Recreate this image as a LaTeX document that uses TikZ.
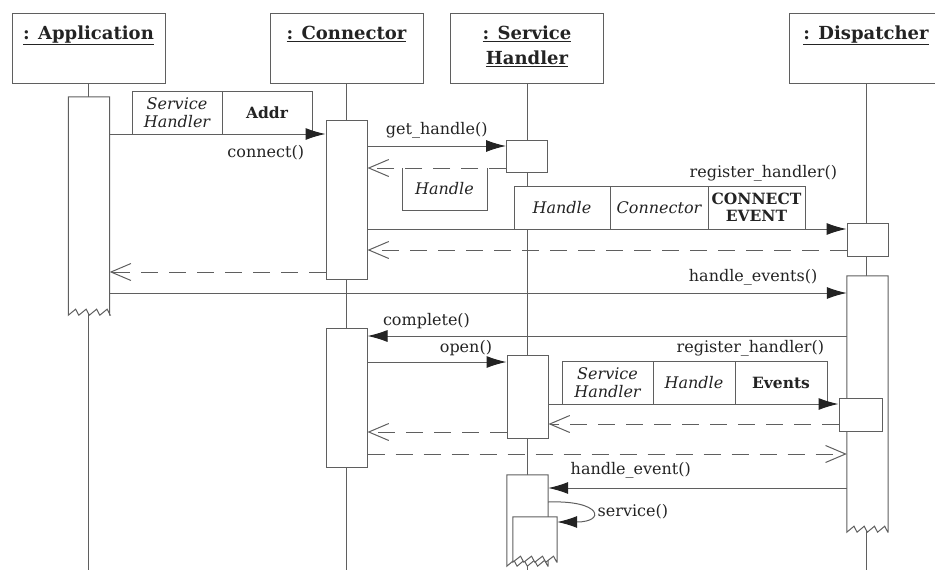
\documentclass[tikz,border=0pt]{standalone}
\usepackage{fontspec}
\setmainfont{DejaVu Serif}
\usepackage{tikz}
\usetikzlibrary{arrows.meta,positioning,calc}
\definecolor{linegray}{RGB}{95,95,95}
\definecolor{inkgray}{RGB}{35,35,35}
% activation bar with a torn (zigzag) lower end
\newcommand{\zigact}[2]{%
  \draw[zig] (#1.south east) -- (#1.north east) -- (#1.north west) -- (#1.south west)
    \foreach \t in {1,...,4}{ -- ++(0.7*#2,-6) -- ++(0.3*#2,6) } -- cycle;
}

\begin{document}
\begin{tikzpicture}[
    x=1pt, y=-1pt,
    font=\fontsize{16}{18}\selectfont, text=inkgray,
    object/.style={rectangle, draw=linegray, line width=1pt, minimum width=153pt, minimum height=70pt, inner sep=0pt},
    objname/.style={inner sep=0pt, align=center, font=\fontsize{18}{25}\selectfont\bfseries},
    lifeline/.style={draw=linegray, line width=0.9pt},
    act/.style={rectangle, draw=linegray, fill=white, line width=1pt, minimum width=41pt, inner sep=0pt},
    actz/.style={rectangle, minimum width=41pt, inner sep=0pt},
    zig/.style={draw=linegray, fill=white, line width=1pt},
    param/.style={rectangle, draw=linegray, fill=white, line width=0.9pt, minimum height=43pt, inner sep=1pt, outer sep=0pt, align=center, font=\fontsize{16}{18}\selectfont\itshape},
    parambf/.style={param, font=\fontsize{15.5}{17}\selectfont\bfseries},
    msglabel/.style={inner sep=0pt},
    call/.style={draw=linegray, line width=1pt, -{Latex[length=20pt, width=12pt, color=inkgray]}},
    reply/.style={draw=linegray, line width=1pt, dash pattern=on 17pt off 11pt, -{Straight Barb[length=20pt, width=17pt]}}
]
\useasboundingbox (0,0) rectangle (935,570);

% Objects
\node[object] (app) at (88.5,48) {};
\node[object] (con) at (346.5,48) {};
\node[object] (sh) at (527,48) {};
\node[object] (disp) at (866,48) {};
\node[objname, below=13pt of app.north] (appName) {\underline{: Application}};
\node[objname, below=13pt of con.north] (conName) {\underline{: Connector}};
\node[objname, below=13pt of sh.north] (shName) {\underline{: Service}\\\underline{Handler}};
\node[objname, below=13pt of disp.north] (dispName) {\underline{: Dispatcher}};

% Lifelines
\foreach \o in {app,con,sh,disp}
  \draw[lifeline] (\o.south) -- (\o.south |- 0,575);

% Activations
\node[actz, minimum height=218pt] (appAct) at (89,206) {};
\zigact{appAct}{10.5}
\node[act, minimum height=159pt] (conAct1) at (346.5,199.5) {};
\node[act, minimum height=32pt] (shAct1) at (527,156) {};
\node[act, minimum height=33pt] (dispAct1) at (867.5,239.5) {};
\node[actz, minimum height=256pt] (dispAct2) at (867.5,404) {};
\zigact{dispAct2}{10.25}
\node[act, minimum height=139pt] (conAct2) at (346.5,397.5) {};
\node[act, minimum height=83pt] (shAct2) at (527.5,396.5) {};
\node[act, minimum width=43pt, minimum height=33pt] (dispAct3) at (860.5,414.5) {};
\node[actz, minimum height=91pt] (shAct3) at (527.5,520.5) {};
\zigact{shAct3}{10.25}
\node[actz, minimum width=44pt, minimum height=45pt] (shAct4) at (535,539.5) {};
\zigact{shAct4}{11}

% Parameter boxes
\node[param, minimum width=90pt, anchor=south west] (cHandler) at (132,134) {Service\\Handler};
\node[parambf, minimum width=90pt, right=0pt of cHandler] (cAddr) {Addr};
\node[param, draw=none, fill=none, minimum width=85pt, minimum height=42pt, anchor=north west] (gHandle) at (402,168) {Handle};
\draw[linegray, line width=0.9pt] (gHandle.north west) |- (gHandle.south east) -- (gHandle.north east);
\node[param, minimum width=96pt, anchor=south west] (rHandle) at (514,229) {Handle};
\node[param, minimum width=98pt, right=0pt of rHandle] (rConnector) {Connector};
\node[parambf, minimum width=97pt, right=0pt of rConnector] (rEvent) {CONNECT\\EVENT};
\node[param, minimum width=91pt, anchor=south west] (sHandler) at (562,404) {Service\\Handler};
\node[param, minimum width=82pt, right=0pt of sHandler] (sHandle) {Handle};
\node[parambf, minimum width=92pt, right=0pt of sHandle] (sEvents) {Events};

% Messages
\draw[call] (appAct.east |- 0,134) -- (conAct1.west |- 0,134)
  node[msglabel, pos=1, anchor=north east, xshift=-21pt, yshift=-11pt] {connect()};
\draw[call] (conAct1.east |- 0,146) -- (shAct1.west |- 0,146)
  node[msglabel, midway, above=7pt] {get\_handle()};
\draw[reply] (shAct1.west |- 0,168) -- (conAct1.east |- 0,168);
\draw[call] (conAct1.east |- 0,229) -- (dispAct1.west |- 0,229)
  node[msglabel, pos=1, anchor=south east, xshift=-9pt, yshift=47pt] {register\_handler()};
\draw[reply] (dispAct1.west |- 0,250) -- (conAct1.east |- 0,250);
\draw[reply] (conAct1.west |- 0,272) -- (appAct.east |- 0,272);
\draw[call] (appAct.east |- 0,293) -- (dispAct2.west |- 0,293)
  node[msglabel, pos=1, anchor=south east, xshift=-29pt, yshift=7pt] {handle\_events()};
\draw[call] (dispAct2.west |- 0,336) -- (conAct2.east |- 0,336)
  node[msglabel, pos=1, anchor=south west, xshift=15pt, yshift=7pt] {complete()};
\draw[call] (conAct2.east |- 0,362) -- (shAct2.west |- 0,362)
  node[msglabel, pos=1, anchor=south east, xshift=-14pt, yshift=6pt] {open()};
\draw[call] (shAct2.east |- 0,404) -- (dispAct3.west |- 0,404)
  node[msglabel, pos=1, anchor=south east, xshift=-14pt, yshift=47pt] {register\_handler()};
\draw[reply] (dispAct3.west |- 0,424) -- (shAct2.east |- 0,424);
\draw[reply] (shAct2.west |- 0,432) -- (conAct2.east |- 0,432);
\draw[reply] (conAct2.east |- 0,454) -- (dispAct2.west |- 0,454);
\draw[call] (dispAct2.west |- 0,488) -- (shAct3.east |- 0,488)
  node[msglabel, pos=1, anchor=south west, xshift=22pt, yshift=9pt] {handle\_event()};
\draw[call] (shAct3.east |- 0,502) .. controls (602,500) and (606,522) .. (shAct4.east |- 0,522)
  node[msglabel, pos=0.5, anchor=west, xshift=6pt] {service()};

\end{tikzpicture}
\end{document}
